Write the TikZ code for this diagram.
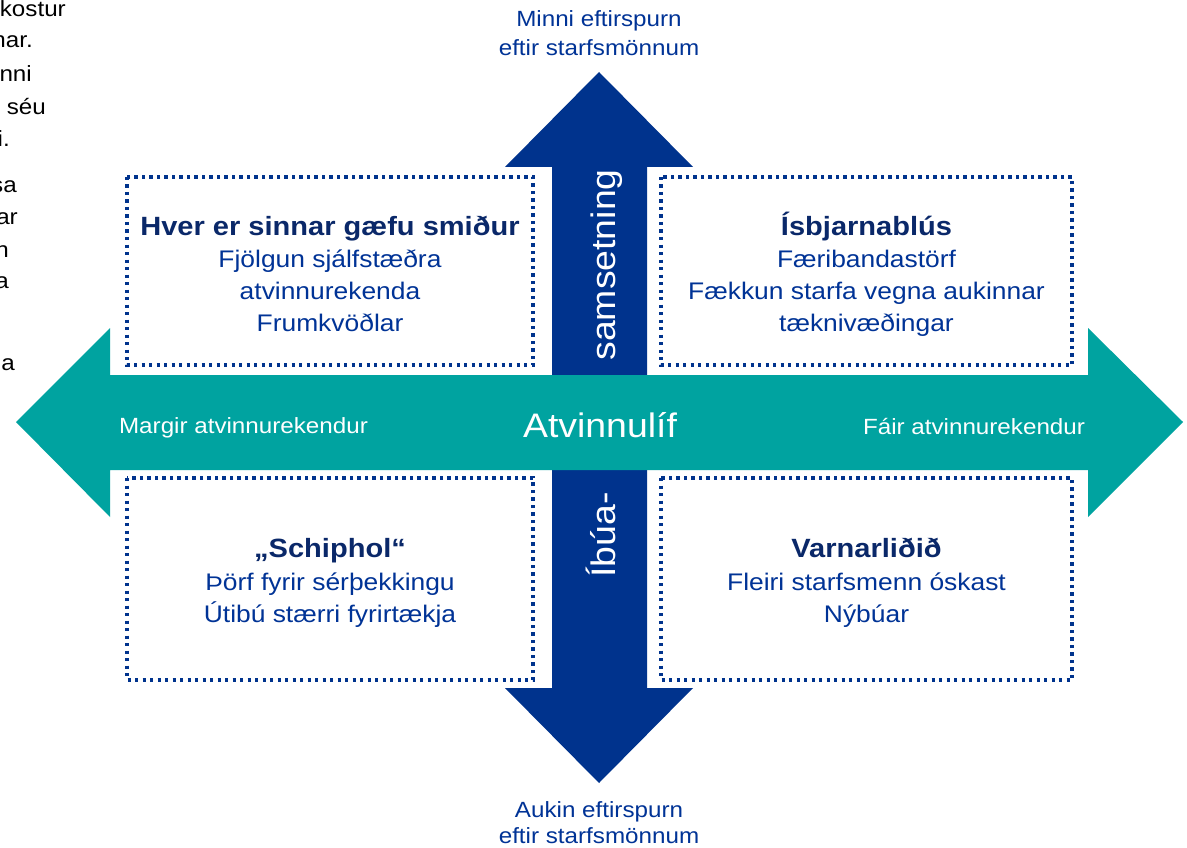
\documentclass[tikz,border=0pt]{standalone}
\usepackage{fontspec}
\setmainfont{Liberation Sans}[FakeStretch=1.1]
\definecolor{teal1}{RGB}{0,163,160}
\definecolor{arrblue}{RGB}{0,51,141}
\definecolor{txtblue}{RGB}{0,51,150}
\definecolor{ttlblue}{RGB}{10,40,105}
\begin{document}
\begin{tikzpicture}[x=1pt,y=-1pt,
  qbody/.style={font=\fontsize{24}{28}\selectfont,text=txtblue,inner sep=0pt,anchor=base},
  qtitle/.style={font=\bfseries\fontsize{26.4}{30}\selectfont,text=ttlblue,inner sep=0pt,anchor=base},
  biglabel/.style={font=\fontsize{34}{40}\selectfont,text=white,inner sep=0pt,anchor=base},
  sidelabel/.style={font=\fontsize{22}{26}\selectfont,text=white,inner sep=0pt,anchor=base},
  axislabel/.style={font=\fontsize{22}{26}\selectfont,text=txtblue,inner sep=0pt,anchor=base},
  frag/.style={font=\fontsize{22}{26}\selectfont,text=black,inner sep=0pt,anchor=base east},
  dotbox/.style={draw=arrblue,line width=3.4pt,dash pattern=on 3.4pt off 4.1pt}]
\useasboundingbox (0,0) rectangle (1187,848);
\fill[white] (0,0) rectangle (1187,848);
\begin{scope}
\clip (0,0) rectangle (1187,848);
% clipped text on the left edge
\node[frag] (f1) at (66,17) {kostur};
\node[frag] (f2) at (33,48) {nar.};
\node[frag] (f3) at (32,82) {nni};
\node[frag] (f4) at (46,115) {séu};
\node[frag] (f5) at (10,147) {i.};
\node[frag] (f6) at (17,193) {sa};
\node[frag] (f7) at (18,225) {ar};
\node[frag] (f8) at (9,258) {n};
\node[frag] (f9) at (9,288) {a};
\node[frag] (f10) at (15,370) {a};
% vertical arrow
\fill[arrblue] (599,72) -- (693,167) -- (647,167) -- (647,688) -- (693,688)
  -- (599,783) -- (505,688) -- (552,688) -- (552,167) -- (505,167) -- cycle;
% horizontal arrow
\fill[teal1] (16,422) -- (110,328) -- (110,375) -- (1088,375) -- (1088,328)
  -- (1183,422) -- (1088,517) -- (1088,470) -- (110,470) -- (110,517) -- cycle;
\end{scope}
% dotted boxes
\draw[dotbox] (127,177) rectangle (533,365);
\draw[dotbox] (661,177) rectangle (1072,365);
\draw[dotbox] (127,478) rectangle (533,680);
\draw[dotbox] (661,478) rectangle (1072,680);
% top-left
\node[qtitle] (tl0) at (330,235) {Hver er sinnar gæfu smiður};
\node[qbody] (tl1) at (330,267) {Fjölgun sjálfstæðra};
\node[qbody] (tl2) at (330,299) {atvinnurekenda};
\node[qbody] (tl3) at (330,331) {Frumkvöðlar};
% top-right
\node[qtitle] (tr0) at (866.5,235) {Ísbjarnablús};
\node[qbody] (tr1) at (866.5,267) {Færibandastörf};
\node[qbody] (tr2) at (866.5,299) {Fækkun starfa vegna aukinnar};
\node[qbody] (tr3) at (866.5,331) {tæknivæðingar};
% bottom-left
\node[qtitle] (bl0) at (330,557) {„Schiphol“};
\node[qbody] (bl1) at (330,590) {Þörf fyrir sérþekkingu};
\node[qbody] (bl2) at (330,622) {Útibú stærri fyrirtækja};
% bottom-right
\node[qtitle] (br0) at (866.5,557) {Varnarliðið};
\node[qbody] (br1) at (866.5,590) {Fleiri starfsmenn óskast};
\node[qbody] (br2) at (866.5,622) {Nýbúar};
% arrow labels
\node[biglabel] (atv) at (600,437) {Atvinnulíf};
\node[sidelabel] (marg) at (243.5,433) {Margir atvinnurekendur};
\node[sidelabel] (fair) at (974,434) {Fáir atvinnurekendur};
\node[biglabel,rotate=90] (sams) at (615,265) {samsetning};
\node[biglabel,rotate=90] (ibua) at (615,535) {Íbúa-};
\node[axislabel] (top1) at (599,27) {Minni eftirspurn};
\node[axislabel] (top2) at (599,56) {eftir starfsmönnum};
\node[axislabel] (bot1) at (599,817) {Aukin eftirspurn};
\node[axislabel] (bot2) at (599,843) {eftir starfsmönnum};
\end{tikzpicture}
\end{document}
